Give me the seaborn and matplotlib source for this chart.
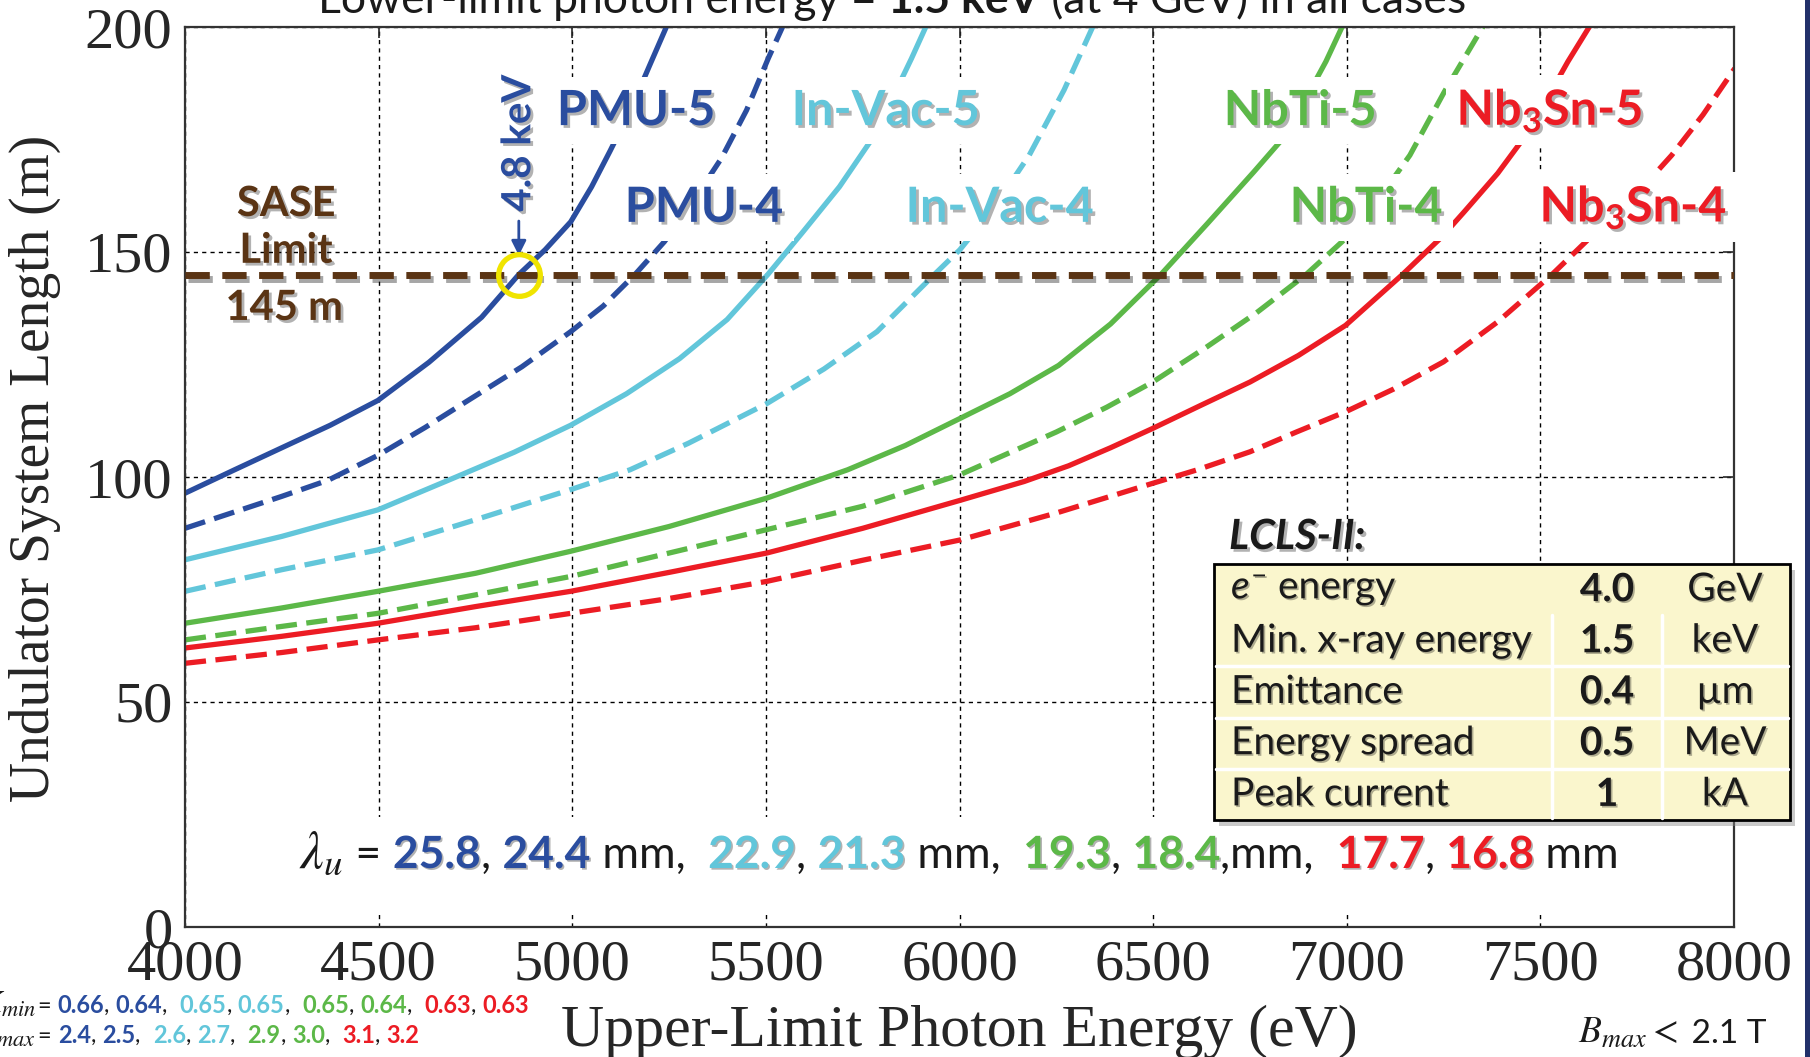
import matplotlib
matplotlib.use("Agg")
import matplotlib.pyplot as plt
import matplotlib.patheffects as pe
from matplotlib.patches import Rectangle
from matplotlib.lines import Line2D
import pandas as pd
import seaborn as sns

# ---- data (photon energy in eV, length in m) ----
pmu5_x = [4000, 4128, 4250, 4375, 4498, 4630, 4766, 4862, 4930, 4996, 5050, 5098, 5150, 5200, 5245]
pmu5_y = [96.4, 101.6, 106.5, 111.5, 117.0, 125.5, 135.5, 145.0, 150.5, 156.7, 164.5, 172.5, 181.5, 191.5, 200.4]
pmu4_x = [4000, 4250, 4370, 4498, 4620, 4740, 4870, 4996, 5080, 5162, 5238, 5310, 5385, 5450, 5506, 5545]
pmu4_y = [88.6, 95.7, 99.3, 104.8, 111.0, 117.5, 124.5, 132.3, 138.0, 145.0, 152.3, 161.0, 170.8, 181.5, 193.0, 200.4]
invac5_x = [4000, 4250, 4498, 4700, 4850, 4996, 5140, 5277, 5400, 5505, 5596, 5690, 5781, 5876, 5915]
invac5_y = [81.6, 86.8, 92.7, 100.0, 105.5, 111.5, 118.5, 126.3, 135.0, 145.0, 154.5, 164.5, 176.0, 193.0, 200.4]
invac4_x = [4000, 4250, 4498, 4750, 4996, 5149, 5300, 5502, 5650, 5787, 5935, 6001, 6090, 6180, 6270, 6346]
invac4_y = [74.6, 79.4, 83.8, 90.5, 97.2, 101.6, 107.5, 116.3, 124.0, 132.3, 145.0, 150.5, 160.0, 171.5, 186.0, 200.4]
nbti5_x = [4000, 4250, 4498, 4750, 4996, 5250, 5502, 5711, 5860, 6001, 6130, 6256, 6390, 6520, 6640, 6760, 6843, 6946, 6990]
nbti5_y = [67.5, 70.9, 74.6, 78.6, 83.5, 89.0, 95.3, 101.6, 107.0, 113.0, 118.5, 124.8, 134.0, 145.0, 156.3, 167.8, 176.0, 192.3, 200.4]
nbti4_x = [4000, 4250, 4498, 4750, 4996, 5250, 5502, 5750, 6001, 6250, 6380, 6499, 6640, 6767, 6895, 6997, 7080, 7163, 7252, 7354]
nbti4_y = [63.8, 66.8, 69.7, 73.8, 77.9, 83.1, 88.3, 93.5, 100.5, 110.0, 115.5, 121.1, 129.0, 136.5, 145.0, 153.0, 161.5, 171.5, 185.6, 200.4]
nb3sn5_x = [4000, 4250, 4498, 4750, 4996, 5250, 5502, 5750, 6001, 6167, 6282, 6390, 6499, 6625, 6750,
            6875, 6997, 7144, 7246, 7303, 7390, 7469, 7571, 7629]
nb3sn5_y = [62.0, 64.6, 67.5, 71.2, 74.6, 78.8, 83.1, 88.6, 94.8, 99.0, 102.5, 106.5, 110.8, 116.0, 121.1,
            127.0, 133.7, 145.0, 153.4, 158.9, 167.5, 176.7, 192.3, 200.4]
nb3sn4_x = [4000, 4250, 4498, 4750, 4996, 5250, 5502, 5750, 6001, 6250, 6499, 6614, 6750, 6870, 6997,
            7120, 7250, 7390, 7530, 7650, 7750, 7839, 7920, 8002]
nb3sn4_y = [58.6, 61.0, 63.8, 66.5, 69.7, 73.0, 76.8, 81.5, 86.0, 92.0, 98.6, 101.6, 105.6, 110.0, 114.5,
            119.5, 125.6, 134.5, 145.0, 155.0, 163.0, 171.5, 180.5, 190.8]

sase_limit = 145
pmu5_at_limit = 4862

# label text, x, baseline y
labels5 = [("PMU-5", 5165, 178.2), ("In-Vac-5", 5810, 178.2),
           ("NbTi-5", 6880, 178.2), (r"Nb$_\mathbf{3}$Sn-5", 7524, 178.2)]
labels4 = [("PMU-4", 5340, 156.7), ("In-Vac-4", 6104, 156.7),
           ("NbTi-4", 7050, 156.7), (r"Nb$_\mathbf{3}$Sn-4", 7740, 156.7)]

period_5 = ["25.8", "22.9", "19.3", "17.7"]
period_4 = ["24.4", "21.3", "18.4", "16.8"]
kmin_5 = ["0.66", "0.65", "0.65", "0.63"]
kmin_4 = ["0.64", "0.65", "0.64", "0.63"]
kmax_5 = ["2.4", "2.6", "2.9", "3.1"]
kmax_4 = ["2.5", "2.7", "3.0", "3.2"]

param_names = [r"$\it{e}^{-}$ energy", "Min. x-ray energy", "Emittance", "Energy spread", "Peak current"]
param_values = ["4.0", "1.5", "0.4", "0.5", "1"]
param_units = ["GeV", "keV", "µm", "MeV", "kA"]

DBLUE = "#2a4d9f"
LBLUE = "#62c6da"
GREEN = "#5cb848"
RED = "#ec1c24"
BROWN = "#5a3414"
family_colors = [DBLUE, LBLUE, GREEN, RED]

curves = [
    (pmu5_x, pmu5_y, DBLUE, "-"), (pmu4_x, pmu4_y, DBLUE, "--"),
    (invac5_x, invac5_y, LBLUE, "-"), (invac4_x, invac4_y, LBLUE, "--"),
    (nbti5_x, nbti5_y, GREEN, "-"), (nbti4_x, nbti4_y, GREEN, "--"),
    (nb3sn5_x, nb3sn5_y, RED, "-"), (nb3sn4_x, nb3sn4_y, RED, "--"),
]

# ---- style ----
sns.set_style("white")
plt.rcParams["font.family"] = ["Liberation Serif", "DejaVu Serif"]
plt.rcParams["mathtext.fontset"] = "custom"
plt.rcParams["mathtext.rm"] = "Lato"
plt.rcParams["mathtext.it"] = "Lato:italic"
plt.rcParams["mathtext.bf"] = "Lato:bold"

SANS = ["Lato", "DejaVu Sans"]
shadow = [pe.SimplePatchShadow(offset=(2, -2), shadow_rgbFace="black", alpha=0.3), pe.Normal()]
small_shadow = [pe.SimplePatchShadow(offset=(1.2, -1.2), shadow_rgbFace="black", alpha=0.3), pe.Normal()]

W, H = 1810, 1057
fig = plt.figure(figsize=(W / 100, H / 100), dpi=100)
ax = fig.add_axes([185 / W, 1 - 927 / H, (1734 - 185) / W, 900 / H])

for xs, ys, col, ls in curves:
    df = pd.DataFrame({"energy": xs, "length": ys})
    style = "-" if ls == "-" else (0, (4, 1.8))
    sns.lineplot(data=df, x="energy", y="length", ax=ax, color=col, lw=3.8,
                 linestyle=style, sort=False, estimator=None, zorder=2)

ax.axhline(sase_limit, color=BROWN, lw=5, linestyle=(0, (3.5, 1.8)), zorder=4,
           path_effects=[pe.SimpleLineShadow(offset=(2, -3), alpha=0.35), pe.Normal()])

ax.set_xlim(4000, 8000)
ax.set_ylim(0, 200)
ax.set_xticks(range(4000, 8001, 500))
ax.set_yticks(range(0, 201, 50))
ax.grid(True, color="black", linestyle=(0, (3, 3)), linewidth=1.0)
ax.set_axisbelow(True)
for s in ax.spines.values():
    s.set_color("#333333")
    s.set_linewidth(1.6)
ax.tick_params(direction="in", length=8, width=1.2, labelsize=42, pad=9,
               top=True, right=True)
ax.set_xlabel("Upper-Limit Photon Energy (eV)", fontsize=43)
ax.set_ylabel("Undulator System Length (m)", fontsize=40)
ax.xaxis.set_label_coords(0.5, -0.086)
ax.yaxis.set_label_coords(-0.08, 0.51)

# curve labels with white boxes
for (txt, x, y), col in zip(labels5 + labels4, family_colors * 2):
    ax.text(x, y, txt, ha="center", va="baseline", fontsize=35, weight="bold",
            family=SANS, color=col, zorder=5, path_effects=shadow,
            bbox=dict(boxstyle="square,pad=0.22", facecolor="white", edgecolor="none"))

# SASE limit label
for txt, x, y in [("SASE", 4261, 158.0), ("Limit", 4261, 147.6), ("145 m", 4256, 134.9)]:
    ax.text(x, y, txt, ha="center", va="baseline", fontsize=30, weight="bold",
            family=SANS, color=BROWN, zorder=5, path_effects=shadow)

# 4.8 keV marker
ax.text(pmu5_at_limit, 174.2, "4.8 keV", rotation=90, ha="center", va="center",
        fontsize=29, weight="bold", family=SANS, color=DBLUE, zorder=5, path_effects=shadow)
ax.annotate("", xy=(pmu5_at_limit, 148.6), xytext=(pmu5_at_limit, 157.5),
            arrowprops=dict(arrowstyle="-|>", color=DBLUE, lw=2, mutation_scale=22), zorder=5)
ax.plot([pmu5_at_limit], [sase_limit], marker="o", ms=30, mfc="none", mec="#f0e400",
        mew=3.8, zorder=6)

# ---- text rows built from coloured runs ----
r = fig.canvas.get_renderer()


def adv(s, **kw):
    t1 = fig.text(0, 0, "I" + s + "I", **kw)
    w1 = t1.get_window_extent(r).width
    t1.remove()
    t0 = fig.text(0, 0, "II", **kw)
    w0 = t0.get_window_extent(r).width
    t0.remove()
    return w1 - w0


def runs(X, Y, items, align="left", zorder=3):
    widths = [adv(s, **kw) for s, kw in items]
    total = sum(widths)
    x = X - total / 2 if align == "center" else X
    for (s, kw), w in zip(items, widths):
        fig.text(x / W, 1 - Y / H, s, ha="left", va="baseline", zorder=zorder, **kw)
        x += w
    return total


def reg(size, col="#1a1a1a"):
    return dict(fontsize=size, family=SANS, color=col)


def bold(size, col, eff=None):
    d = dict(fontsize=size, family=SANS, color=col, weight="bold")
    if eff:
        d["path_effects"] = eff
    return d


# title (cut off at top)
runs(892, 13, [("Lower-limit photon energy = ", reg(32)),
               ("1.5 keV", bold(32, "#1a1a1a")),
               (" (at 4 GeV) in all cases", reg(32))], align="center")

# white band behind the undulator period row
fig.add_artist(Rectangle((285 / W, 1 - 913 / H), (1640 - 285) / W, 96 / H,
                         transform=fig.transFigure, facecolor="white", edgecolor="none", zorder=1))
items = [(r"$\lambda_u$", dict(fontsize=38, color="#1a1a1a", math_fontfamily="stix")),
         (" = ", reg(32))]
seps = [" mm,  ", " mm,  ", ",mm,  ", " mm"]
for a, b, col, sep in zip(period_5, period_4, family_colors, seps):
    items += [(a, bold(32, col, small_shadow)), (", ", reg(32)),
              (b, bold(32, col, small_shadow)), (sep, reg(32))]
runs(299, 868, items, zorder=2)

# K values, bottom left (K partly cut by the left edge, as in the slide)
for Y, sym, v5, v4 in [(1013, r"$K_{min}$", kmin_5, kmin_4), (1043, r"$K_{max}$", kmax_5, kmax_4)]:
    fig.text(36 / W, 1 - Y / H, sym, ha="right", va="baseline", fontsize=23,
             color="#1a1a1a", math_fontfamily="stix")
    items = [("= ", reg(17))]
    for i, (a, b, col) in enumerate(zip(v5, v4, family_colors)):
        items += [(a, bold(17, col)), (", ", reg(17)), (b, bold(17, col))]
        if i < 3:
            items += [(",  ", reg(17))]
    runs(38, Y, items)

# B max, bottom right
runs(1578, 1043, [(r"$B_{max} <$", dict(fontsize=27, color="#1a1a1a", math_fontfamily="stix")),
                  (" 2.1 T", reg(24))])

# ---- LCLS-II parameter table ----
fig.text(1229 / W, 1 - 537 / H, "LCLS-II:", ha="left", va="center", fontsize=30,
         weight="bold", style="italic", family=SANS, color="#1a1a1a", path_effects=shadow)
tx0, tx1, ty0, ty1 = 1214, 1790, 564, 820
fig.add_artist(Rectangle(((tx0 + 5) / W, 1 - (ty1 + 6) / H), (tx1 - tx0) / W, (ty1 - ty0) / H,
                         transform=fig.transFigure, facecolor="#888888", alpha=0.45,
                         edgecolor="none", zorder=3))
fig.add_artist(Rectangle((tx0 / W, 1 - ty1 / H), (tx1 - tx0) / W, (ty1 - ty0) / H,
                         transform=fig.transFigure, facecolor="#faf6cd", edgecolor="black",
                         lw=2, zorder=4))
rh = (ty1 - ty0) / len(param_names)
for k in (2, 3, 4):
    Y = ty0 + k * rh
    fig.add_artist(Line2D([(tx0 + 2) / W, (tx1 - 2) / W], [1 - Y / H, 1 - Y / H],
                          transform=fig.transFigure, color="white", lw=2.5, zorder=5))
for X in (1552, 1662):
    fig.add_artist(Line2D([X / W, X / W], [1 - (ty0 + rh) / H, 1 - (ty1 - 2) / H],
                          transform=fig.transFigure, color="white", lw=2.5, zorder=5))
for i, (nm, val, unit) in enumerate(zip(param_names, param_values, param_units)):
    Y = 1 - (ty0 + (i + 0.5) * rh) / H
    fig.text(1231 / W, Y, nm, ha="left", va="center", fontsize=28, family=SANS,
             color="#1a1a1a", zorder=6, path_effects=small_shadow)
    fig.text(1607 / W, Y, val, ha="center", va="center", fontsize=28, family=SANS,
             weight="bold", color="#1a1a1a", zorder=6, path_effects=small_shadow)
    fig.text(1725 / W, Y, unit, ha="center", va="center", fontsize=28, family=SANS,
             color="#1a1a1a", zorder=6, path_effects=small_shadow)

# slide edge stripe on the right
fig.add_artist(Rectangle((1805 / W, 0), 5 / W, 1, transform=fig.transFigure,
                         facecolor="#22306a", edgecolor="none", zorder=7))

fig.savefig("out.png", dpi=100)
